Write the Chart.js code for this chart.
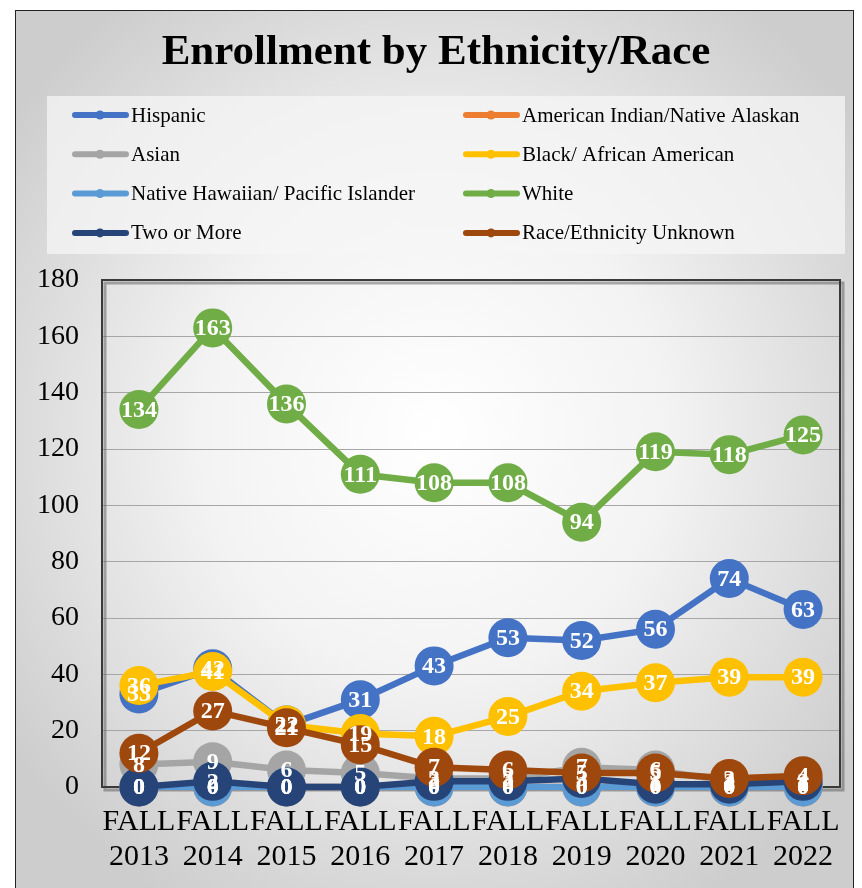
<!DOCTYPE html>
<html>
<head>
<meta charset="utf-8">
<script src="https://cdn.jsdelivr.net/npm/chart.js@4.4.1/dist/chart.umd.min.js"></script>
<style>
  body { margin: 0; background: #fff; }
  #frame {
    position: absolute; left: 15px; top: 10px; width: 837px; height: 900px;
    border: 1px solid #222;
    background: radial-gradient(ellipse 62% 60% at 50% 47%, #ffffff 0%, #f3f3f3 45%, #cdcdcd 100%);
  }
  #chart { position: absolute; left: 0; top: 0; }
</style>
</head>
<body>
<div id="frame"></div>
<canvas id="chart" width="862" height="888"></canvas>
<script>
const title = 'Enrollment by Ethnicity/Race';
const years = ['2013', '2014', '2015', '2016', '2017', '2018', '2019', '2020', '2021', '2022'];
const seriesNames = [
  'Hispanic', 'American Indian/Native Alaskan',
  'Asian', 'Black/ African American',
  'Native Hawaiian/ Pacific Islander', 'White',
  'Two or More', 'Race/Ethnicity Unknown'
];
const hispanic  = [33, 42, 22, 31, 43, 53, 52, 56, 74, 63];
const amIndian  = [0, 0, 0, 0, 0, 0, 0, 0, 0, 0];
const asian     = [8, 9, 6, 5, 3, 3, 7, 6, 2, 1];
const black     = [36, 41, 22, 19, 18, 25, 34, 37, 39, 39];
const hawaiian  = [0, 0, 0, 0, 0, 0, 0, 0, 0, 0];
const white     = [134, 163, 136, 111, 108, 108, 94, 119, 118, 125];
const twoOrMore = [0, 2, 0, 0, 2, 2, 3, 1, 1, 2];
const unknown   = [12, 27, 21, 15, 7, 6, 5, 5, 3, 4];
const yTicks = [0, 20, 40, 60, 80, 100, 120, 140, 160, 180];

const seriesData = [hispanic, amIndian, asian, black, hawaiian, white, twoOrMore, unknown];
const colors = ['#4472C4', '#ED7D31', '#A5A5A5', '#FFC000', '#5B9BD5', '#70AD47', '#264478', '#9E480E'];

const serif = '"Liberation Serif", "Times New Roman", serif';

// title, legend and plot frame, drawn on the canvas
const decor = {
  id: 'decor',
  beforeDatasetsDraw(chart) {
    const {ctx, chartArea: a} = chart;
    ctx.save();
    ctx.strokeStyle = 'rgba(90,90,90,0.5)';
    ctx.lineWidth = 3;
    ctx.strokeRect(a.left + 3, a.top + 3, a.right - a.left, a.bottom - a.top);
    ctx.strokeStyle = '#3a3a3a';
    ctx.lineWidth = 2;
    ctx.strokeRect(a.left, a.top, a.right - a.left, a.bottom - a.top);
    ctx.restore();
  },
  afterDraw(chart) {
    const ctx = chart.ctx;
    ctx.save();
    ctx.fillStyle = '#000';
    ctx.font = 'bold 43px ' + serif;
    ctx.textAlign = 'center';
    ctx.textBaseline = 'middle';
    ctx.fillText(title, 436, 53);

    ctx.textAlign = 'left';
    ctx.fillStyle = 'rgba(246,246,246,0.75)';
    ctx.fillRect(47, 96, 798, 158);
    ctx.font = '21px ' + serif;
    seriesNames.forEach((name, i) => {
      const x = i % 2 === 0 ? 72 : 463;
      const y = 115 + Math.floor(i / 2) * 39.3;
      ctx.strokeStyle = colors[i];
      ctx.lineWidth = 6;
      ctx.lineCap = 'round';
      ctx.beginPath();
      ctx.moveTo(x + 3, y);
      ctx.lineTo(x + 54, y);
      ctx.stroke();
      ctx.fillStyle = colors[i];
      ctx.beginPath();
      ctx.arc(x + 28, y, 4.5, 0, Math.PI * 2);
      ctx.fill();
      ctx.fillStyle = '#000';
      ctx.fillText(name, x + 59, y + 1);
    });
    ctx.restore();
  }
};

// white value labels on top of every marker
const valueLabels = {
  id: 'valueLabels',
  afterDatasetsDraw(chart) {
    const ctx = chart.ctx;
    ctx.save();
    ctx.font = 'bold 24px ' + serif;
    ctx.fillStyle = '#fff';
    ctx.textAlign = 'center';
    ctx.textBaseline = 'middle';
    chart.data.datasets.forEach((ds, i) => {
      chart.getDatasetMeta(i).data.forEach((pt, j) => {
        ctx.fillText(String(ds.data[j]), pt.x, pt.y + 1);
      });
    });
    ctx.restore();
  }
};

new Chart(document.getElementById('chart'), {
  type: 'line',
  data: {
    labels: years.map(y => ['FALL', y]),
    datasets: seriesNames.map((name, i) => ({
      label: name,
      data: seriesData[i],
      borderColor: colors[i],
      backgroundColor: colors[i],
      borderWidth: 6.5,
      pointRadius: 19.5,
      pointBorderWidth: 0,
      pointHoverRadius: 19.5,
      tension: 0,
      clip: false,
      order: seriesNames.length - i
    }))
  },
  options: {
    responsive: false,
    animation: false,
    layout: { padding: { top: 280, left: 14, right: 22, bottom: 4 } },
    plugins: {
      legend: { display: false },
      tooltip: { enabled: false },
      title: { display: false }
    },
    scales: {
      x: {
        offset: true,
        grid: { display: false },
        border: { display: false },
        ticks: {
          color: '#000',
          font: { family: serif, size: 30, lineHeight: 1.15 },
          maxRotation: 0,
          autoSkip: false,
          padding: 10
        }
      },
      y: {
        min: 0,
        max: 180,
        afterBuildTicks(axis) { axis.ticks = yTicks.map(v => ({value: v})); },
        grid: { color: '#a6a6a6', lineWidth: 1, drawTicks: false },
        border: { display: false },
        ticks: {
          color: '#000',
          font: { family: serif, size: 28 },
          padding: 23
        }
      }
    }
  },
  plugins: [decor, valueLabels]
});
</script>
</body>
</html>
